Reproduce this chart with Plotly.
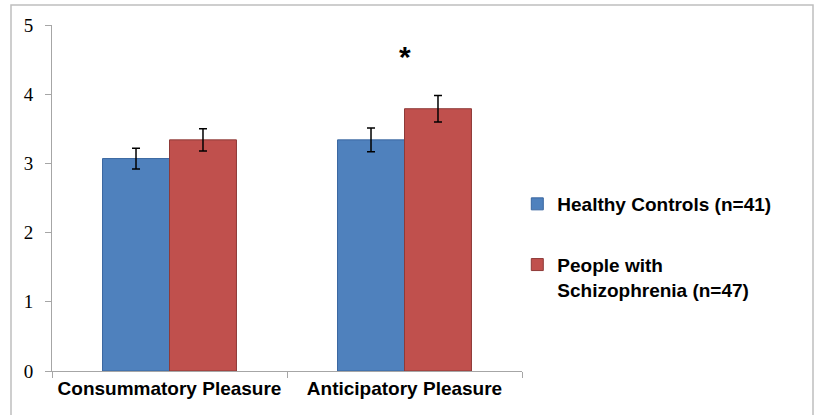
import plotly.graph_objects as go

categories = ["Consummatory Pleasure", "Anticipatory Pleasure"]
series_names = ["Healthy Controls (n=41)", "People with<br>Schizophrenia (n=47)"]
healthy_values = [3.07, 3.34]
healthy_err = [0.15, 0.17]
schizo_values = [3.34, 3.79]
schizo_err = [0.16, 0.19]
y_ticks = [0, 1, 2, 3, 4, 5]
sig_label = "*"
sig_category = "Anticipatory Pleasure"
sig_y = 4.55

fig = go.Figure()
fig.add_trace(go.Bar(
    x=categories, y=healthy_values, name=series_names[0], legendgroup="a",
    marker=dict(color="#4F81BD", line=dict(color="#3A67A0", width=1)),
    error_y=dict(type="data", array=healthy_err, color="black", thickness=1.5, width=4),
))
fig.add_trace(go.Bar(
    x=categories, y=schizo_values, name=series_names[1], legendgroup="b",
    marker=dict(color="#C0504D", line=dict(color="#8E3A38", width=1)),
    error_y=dict(type="data", array=schizo_err, color="black", thickness=1.5, width=4),
))

fig.add_annotation(x=sig_category, y=sig_y, text=sig_label, showarrow=False,
                   font=dict(family="Arial, Liberation Sans", size=30, color="black", weight="bold"),
                   yanchor="middle")

fig.add_shape(type="rect", xref="paper", yref="paper",
              x0=(11 - 52) / 470, x1=(813 - 52) / 470,
              y0=(371 - 430) / 346, y1=(371 - 5) / 346,
              line=dict(color="#BFBFBF", width=1.5), fillcolor="rgba(0,0,0,0)", layer="below")

bold = dict(family="Arial, Liberation Sans", size=19, color="black", weight="bold")

fig.update_layout(
    width=814, height=415,
    margin=dict(l=52, r=292, t=25, b=44),
    plot_bgcolor="white", paper_bgcolor="white",
    barmode="group", bargap=0.43, bargroupgap=0,
    showlegend=True,
    legend=dict(x=0.99, y=(371 - 185) / 346, xanchor="left", yanchor="top",
                font=bold, tracegroupgap=33, valign="top", traceorder="grouped",
                bgcolor="rgba(0,0,0,0)"),
    xaxis=dict(showline=True, linecolor="#A6A6A6", linewidth=1, ticks="outside",
               tickson="boundaries", ticklen=6, tickcolor="#A6A6A6",
               tickfont=bold, showgrid=False, zeroline=False),
    yaxis=dict(range=[0, 5], tickvals=y_ticks, showline=True, linecolor="#A6A6A6",
               linewidth=1, ticks="outside", ticklen=6, tickcolor="#A6A6A6",
               ticklabelstandoff=8,
               tickfont=dict(family="Liberation Serif, serif", size=19, color="black"),
               showgrid=False, zeroline=False),
)

fig.write_html("out.html", config={"displayModeBar": False},
               post_script="document.body.style.margin='0';")
